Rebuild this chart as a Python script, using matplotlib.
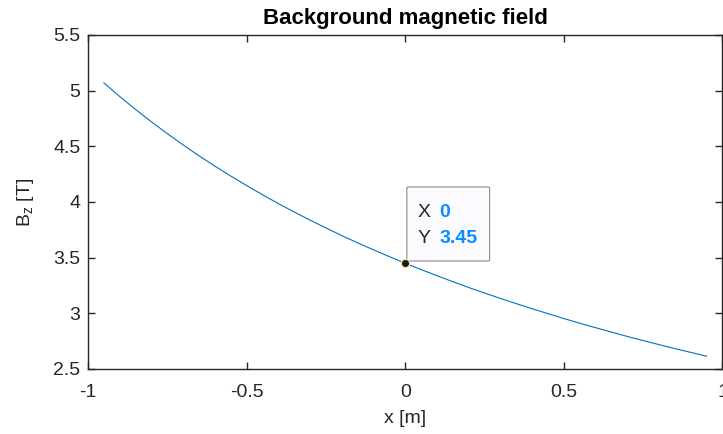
import numpy as np
import matplotlib
matplotlib.use("Agg")
import matplotlib.pyplot as plt
from matplotlib.patches import FancyBboxPatch

plt.rcParams['font.family'] = ['Liberation Sans', 'DejaVu Sans']

# field values
x_pos = [-0.95, -0.90, -0.85, -0.80, -0.75, -0.70, -0.65, -0.60, -0.55, -0.50,
         -0.45, -0.40, -0.35, -0.30, -0.25, -0.20, -0.15, -0.10, -0.05, 0.00,
         0.05, 0.10, 0.15, 0.20, 0.25, 0.30, 0.35, 0.40, 0.45, 0.50,
         0.55, 0.60, 0.65, 0.70, 0.75, 0.80, 0.85, 0.90, 0.95]
bz = [5.070, 4.947, 4.831, 4.720, 4.614, 4.512, 4.415, 4.322, 4.233, 4.148,
      4.065, 3.986, 3.910, 3.837, 3.767, 3.698, 3.633, 3.570, 3.509, 3.450,
      3.393, 3.338, 3.284, 3.232, 3.182, 3.134, 3.087, 3.041, 2.997, 2.953,
      2.911, 2.871, 2.831, 2.792, 2.755, 2.719, 2.683, 2.649, 2.615]
tip_x, tip_y = 0, 3.45

fig = plt.figure(figsize=(7.23, 4.34), dpi=100)
ax = fig.add_axes([0.1217, 0.1498, 0.8776, 0.7696])

ax.plot(x_pos, bz, color='#0072BD', lw=0.8)
ax.plot([tip_x], [tip_y], 'o', color='#1a1a1a', ms=6, mec='#f5eba0', mew=0.9, zorder=7)

ax.set_xlim(-1, 1)
ax.set_ylim(2.5, 5.5)
ax.set_xticks([-1, -0.5, 0, 0.5, 1])
ax.set_xticklabels(['-1', '-0.5', '0', '0.5', '1'])
ax.set_yticks([2.5, 3, 3.5, 4, 4.5, 5, 5.5])
ax.set_yticklabels(['2.5', '3', '3.5', '4', '4.5', '5', '5.5'])
ax.tick_params(direction='in', length=5, width=1, top=True, right=True,
               labelsize=14, colors='#262626')
ax.tick_params(axis='x', pad=11)
ax.tick_params(axis='y', pad=5.5)
for s in ax.spines.values():
    s.set_color('#262626')
    s.set_linewidth(1)

ax.set_title('Background magnetic field', fontsize=16, fontweight='bold', pad=8)
ax.set_xlabel('x [m]', fontsize=14, color='#262626', labelpad=6)
ax.set_ylabel('B$_\\mathregular{z}$ [T]', fontsize=14, color='#262626', labelpad=12)

# data tip
box = FancyBboxPatch((0.005, 3.47), 0.261, 0.665,
                     boxstyle='round,pad=0,rounding_size=0.008',
                     fc='#fafaff', ec='#8c8c8c', lw=0.8, zorder=5)
ax.add_patch(box)
ax.text(0.039, 3.91, 'X', fontsize=14, color='#262626', va='center', zorder=6)
ax.text(0.107, 3.91, '0', fontsize=14, color='#0a8cff', fontweight='bold', va='center', zorder=6)
ax.text(0.039, 3.668, 'Y', fontsize=14, color='#262626', va='center', zorder=6)
ax.text(0.107, 3.668, '3.45', fontsize=14, color='#0a8cff', fontweight='bold', va='center', zorder=6)

fig.savefig('out.png', dpi=100)
